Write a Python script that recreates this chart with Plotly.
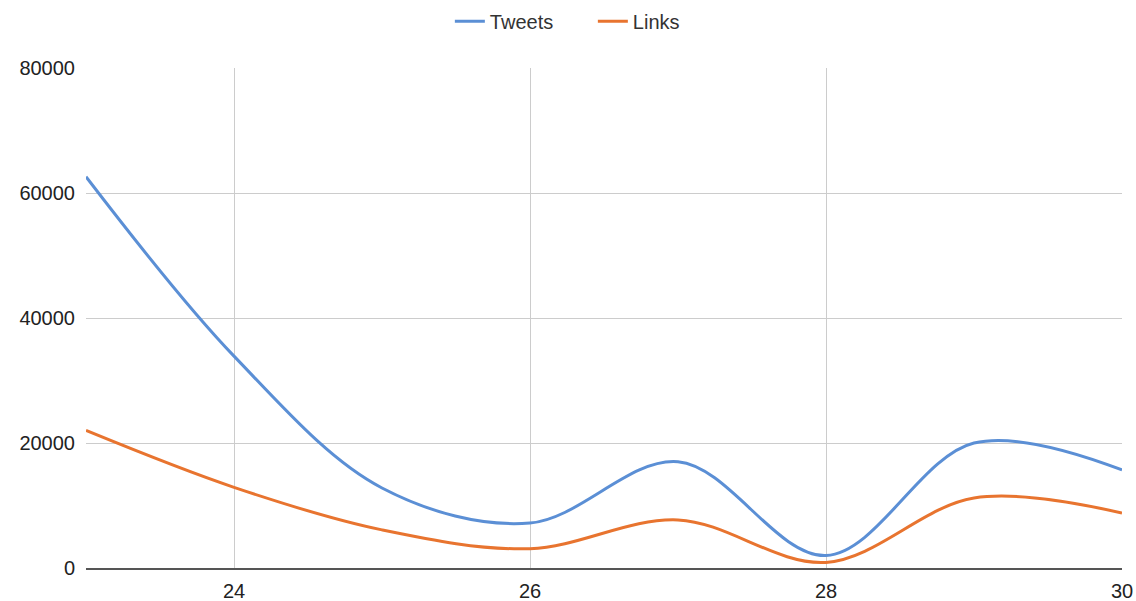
import plotly.graph_objects as go

days = [23, 24, 25, 26, 27, 28, 29, 30]
tweets = [62600, 33900, 12800, 7200, 17000, 2000, 20000, 15700]
links = [22000, 12900, 6100, 3100, 7700, 900, 11200, 8800]
x_ticks = [24, 26, 28, 30]
y_ticks = [0, 20000, 40000, 60000, 80000]

BLUE = "#5b8fd5"
ORANGE = "#e8742f"

fig = go.Figure()
fig.add_trace(go.Scatter(x=days, y=tweets, name="Tweets", mode="lines",
                         line=dict(color=BLUE, width=3, shape="spline", smoothing=1)))
fig.add_trace(go.Scatter(x=days, y=links, name="Links", mode="lines",
                         line=dict(color=ORANGE, width=3, shape="spline", smoothing=1)))

fig.update_layout(
    width=1136, height=601,
    margin=dict(l=86, r=14, t=68, b=33, autoexpand=False),
    paper_bgcolor="white", plot_bgcolor="white",
    font=dict(family="Liberation Sans, Arial, sans-serif", size=20, color="#222222"),
    legend=dict(orientation="h", x=0.396, xanchor="left", xref="container",
                y=0.997, yanchor="top", yref="container",
                font=dict(size=20, color="#333333"),
                entrywidth=98, entrywidthmode="pixels", itemwidth=30, tracegroupgap=0),
    showlegend=True,
)
fig.update_xaxes(range=[23, 30], tickvals=x_ticks, showgrid=True, gridcolor="#cccccc",
                 gridwidth=1, zeroline=False, showline=True, linecolor="#555555", linewidth=2,
                 ticks="", ticklabelstandoff=4, automargin=False)
fig.update_yaxes(range=[0, 80000], tickvals=y_ticks, tickformat="d", showgrid=True,
                 gridcolor="#cccccc", gridwidth=1, zeroline=False, showline=False,
                 ticks="", ticklabelstandoff=10, automargin=False)

fig.write_html("out.html", config={"displayModeBar": False},
               post_script="document.body.style.margin='0';document.body.style.overflow='hidden';")
